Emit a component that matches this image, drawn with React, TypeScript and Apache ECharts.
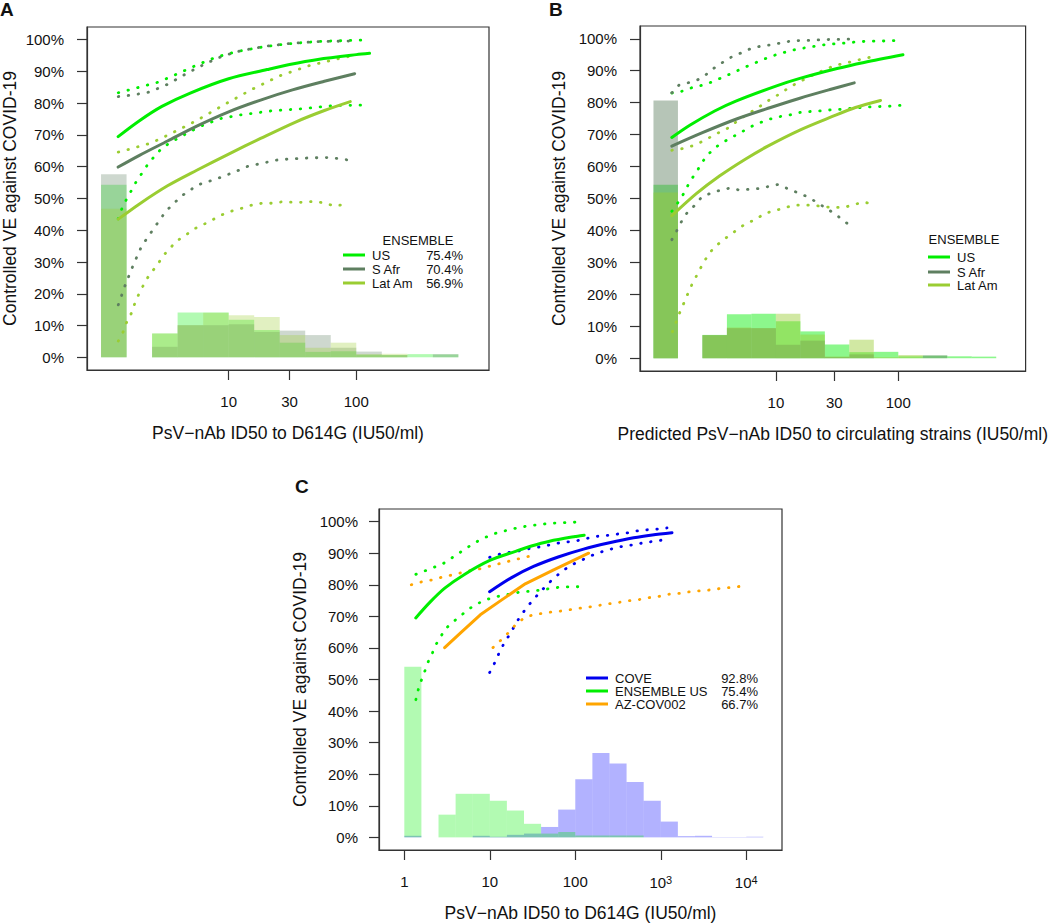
import React, { useEffect, useRef } from 'react';
import * as echarts from 'echarts';

// ---------- DATA (x = log10 of PsV-nAb ID50 in IU50/ml, y = controlled VE in %) ----------
const binEdgesAB = [0, 0.2, 0.4, 0.6, 0.8, 1.0, 1.2, 1.4, 1.6, 1.8, 2.0, 2.2, 2.4, 2.6, 2.8];
const binEdgesC = [0, 0.2, 0.4, 0.6, 0.8, 1.0, 1.2, 1.4, 1.6, 1.8, 2.0, 2.2, 2.4, 2.6, 2.8, 3.0, 3.2, 3.4, 3.6, 3.8, 4.0, 4.2];

// Panel A histograms (% of vaccinees per bin)
const usHistA = [54.3, 0, 7.5, 14.1, 14.1, 11.8, 8.6, 4.6, 1.7, 1.9, 0.8, 0.7, 1.0, 0.9];
const sAfrHistA = [57.6, 0, 3.3, 10.1, 10.1, 10.4, 8.0, 8.4, 7.0, 3.0, 1.8, 0.7, 0, 1.0];
const latAmHistA = [46.8, 0, 7.5, 10.1, 14.0, 13.2, 12.7, 7.0, 3.0, 4.6, 1.0, 1.1, 0, 0];

// Panel B histograms
const usHistB = [54.3, 0, 7.3, 13.8, 13.9, 11.6, 8.4, 4.3, 1.9, 2.0, 0.6, 0.8, 0.6, 0.5];
const sAfrHistB = [80.7, 0, 7.2, 9.4, 9.4, 4.2, 5.5, 0.4, 1.2, 0, 0, 0.9, 0, 0];
const latAmHistB = [51.9, 0, 7.2, 9.6, 9.4, 13.9, 7.4, 0.5, 5.8, 0.3, 1.0, 0, 0, 0];

// Panel C histograms
const coveHistC = [0.5, 0, 0, 0, 0.5, 0.2, 0.8, 1.2, 3.3, 8.8, 18.4, 26.7, 23.4, 17.5, 11.6, 5.0, 0.4, 0.5, 0.1, 0.1, 0.2];
const ensUsHistC = [54.0, 0, 7.2, 13.8, 13.8, 11.6, 8.5, 4.3, 1.2, 1.7, 0.6, 0.6, 0.6, 0.6, 0, 0, 0, 0, 0, 0, 0];

// Panel A curves
const usFitA = [[0.134, 69.5], [0.301, 74.5], [0.477, 79.0], [0.699, 83.2], [1.0, 87.7], [1.301, 90.6], [1.477, 92.2], [1.699, 93.8], [2.0, 95.3], [2.104, 95.7]];
const usUpperA = [[0.135, 83.3], [0.25, 84.5], [0.455, 86.7], [0.6, 89.3], [0.755, 92.1], [0.9, 94.5], [1.068, 96.3], [1.25, 97.6], [1.393, 98.4], [1.55, 99.0], [1.724, 99.5], [1.9, 99.7], [2.065, 99.9]];
const usLowerA = [[0.135, 43.6], [0.164, 46.9], [0.2, 49.8], [0.242, 52.8], [0.281, 55.7], [0.33, 58.5], [0.373, 61.2], [0.482, 66.1], [0.63, 69.6], [0.776, 72.7], [0.93, 75.1], [1.09, 76.3], [1.336, 77.6], [1.583, 78.3], [1.83, 79.3], [2.08, 79.4]];
const sAfrFitA = [[0.134, 59.9], [0.301, 63.6], [0.521, 68.1], [0.75, 72.8], [1.0, 77.3], [1.25, 81.0], [1.5, 84.2], [1.75, 86.9], [1.987, 89.3]];
const sAfrUpperA = [[0.135, 82.1], [0.25, 82.6], [0.377, 83.5], [0.53, 86.1], [0.677, 89.5], [0.82, 92.5], [0.95, 94.8], [1.1, 96.6], [1.3, 98.0], [1.5, 98.9], [1.7, 99.4], [1.98, 99.6]];
const sAfrLowerA = [[0.135, 16.5], [0.19, 22.8], [0.252, 29.0], [0.318, 35.0], [0.414, 40.6], [0.508, 46.0], [0.627, 50.7], [0.76, 54.3], [0.92, 56.4], [1.073, 58.8], [1.148, 60.1], [1.388, 62.2], [1.635, 62.8], [1.8, 62.9], [1.96, 62.0]];
const latAmFitA = [[0.135, 43.5], [0.301, 48.3], [0.521, 54.0], [0.75, 58.9], [1.0, 64.0], [1.25, 68.9], [1.52, 74.0], [1.75, 77.7], [1.953, 80.5]];
const latAmUpperA = [[0.135, 64.6], [0.213, 65.4], [0.291, 66.3], [0.37, 67.2], [0.448, 68.5], [0.55, 70.5], [0.65, 72.5], [0.742, 74.4], [0.959, 79.4], [1.174, 84.2], [1.398, 88.6], [1.636, 91.9], [1.88, 94.2], [1.953, 94.8]];
const latAmLowerA = [[0.135, 5.1], [0.174, 8.1], [0.203, 11.3], [0.242, 14.2], [0.268, 17.4], [0.302, 20.4], [0.341, 23.4], [0.385, 26.4], [0.438, 28.8], [0.479, 31.6], [0.534, 34.1], [0.596, 36.7], [0.659, 38.3], [0.727, 40.4], [0.797, 41.7], [0.87, 43.2], [0.943, 44.8], [1.021, 46.0], [1.1, 46.9], [1.18, 47.9], [1.26, 48.5], [1.34, 48.5], [1.427, 49.0], [1.5, 48.8], [1.59, 48.8], [1.67, 49.1], [1.75, 48.6], [1.83, 47.6], [1.914, 48.2]];

// Panel B curves
const usFitB = [[0.15, 69.1], [0.3, 73.0], [0.5, 77.4], [0.673, 80.5], [1.0, 85.2], [1.196, 87.6], [1.5, 90.7], [1.72, 92.6], [2.038, 95.0]];
const usUpperB = [[0.15, 83.0], [0.236, 83.6], [0.314, 84.7], [0.393, 85.4], [0.471, 86.4], [0.55, 87.7], [0.628, 89.0], [0.707, 90.4], [0.783, 91.7], [0.859, 92.9], [0.934, 94.1], [1.016, 95.2], [1.096, 96.0], [1.177, 96.8], [1.26, 97.3], [1.342, 97.8], [1.426, 98.3], [1.507, 98.5], [1.587, 98.7], [1.671, 99.1], [1.755, 99.2], [1.838, 99.3], [1.92, 99.3], [2.006, 99.5]];
const usLowerB = [[0.15, 46.0], [0.216, 49.6], [0.26, 52.4], [0.299, 55.5], [0.349, 58.1], [0.39, 60.9], [0.438, 63.5], [0.503, 65.9], [0.573, 67.7], [0.647, 69.3], [0.72, 70.8], [0.79, 72.4], [0.867, 73.7], [0.945, 74.8], [1.026, 75.6], [1.11, 76.1], [1.188, 76.9], [1.269, 77.2], [1.35, 77.4], [1.436, 77.7], [1.523, 77.9], [1.604, 78.2], [1.771, 78.7], [1.855, 78.8], [1.94, 78.9], [2.02, 79.2]];
const sAfrFitB = [[0.15, 66.4], [0.4, 70.6], [0.673, 74.8], [0.95, 78.4], [1.196, 81.4], [1.45, 84.2], [1.64, 86.2]];
const sAfrUpperB = [[0.15, 83.1], [0.208, 85.5], [0.281, 86.2], [0.359, 87.1], [0.43, 88.8], [0.498, 90.9], [0.569, 92.7], [0.642, 94.4], [0.718, 95.6], [0.793, 96.9], [0.877, 97.7], [0.961, 98.1], [1.04, 98.7], [1.122, 99.3], [1.208, 99.5], [1.29, 99.5], [1.376, 99.7], [1.456, 99.8], [1.54, 99.8], [1.62, 99.9]];
const sAfrLowerB = [[0.15, 37.1], [0.19, 39.9], [0.229, 42.8], [0.276, 45.6], [0.338, 47.9], [0.393, 50.4], [0.469, 51.7], [0.547, 52.6], [0.628, 53.3], [0.706, 52.6], [0.783, 52.9], [0.864, 53.1], [0.945, 53.8], [1.02, 54.4], [1.096, 53.1], [1.172, 51.9], [1.248, 50.7], [1.322, 49.1], [1.395, 47.3], [1.465, 45.6], [1.53, 43.8], [1.596, 41.8]];
const latAmFitB = [[0.15, 44.6], [0.35, 51.5], [0.542, 57.1], [0.75, 62.3], [0.934, 66.4], [1.2, 71.5], [1.457, 75.6], [1.65, 78.5], [1.855, 80.7]];
const latAmUpperB = [[0.15, 65.1], [0.234, 65.6], [0.312, 66.4], [0.39, 67.7], [0.469, 69.3], [0.542, 70.8], [0.616, 72.2], [0.686, 74.3], [0.751, 76.0], [0.824, 77.7], [0.895, 79.5], [0.965, 81.3], [1.039, 82.9], [1.11, 84.8], [1.18, 86.3], [1.253, 87.7], [1.326, 89.1], [1.405, 90.4], [1.483, 91.7], [1.567, 92.3], [1.648, 93.2], [1.732, 93.8], [1.816, 94.8]];
const latAmLowerB = [[0.155, 8.3], [0.184, 11.2], [0.216, 14.4], [0.25, 17.4], [0.283, 20.4], [0.318, 23.4], [0.359, 26.3], [0.398, 29.2], [0.443, 32.1], [0.495, 34.7], [0.561, 36.7], [0.624, 38.6], [0.691, 40.4], [0.759, 42.3], [0.832, 43.3], [0.906, 45.3], [0.984, 46.1], [1.065, 47.0], [1.146, 47.9], [1.227, 47.9], [1.31, 47.9], [1.392, 47.4], [1.475, 47.2], [1.557, 47.2], [1.638, 48.1], [1.718, 48.9], [1.8, 48.1]];

// Panel C curves (ENSEMBLE US reuses panel A's US curves)
const coveFit = [[0.998, 77.8], [1.25, 82.2], [1.512, 85.8], [1.8, 88.8], [2.097, 91.3], [2.4, 93.3], [2.682, 94.9], [2.9, 95.8], [3.131, 96.5]];
const coveUpper = [[0.998, 88.7], [1.115, 89.7], [1.24, 90.3], [1.36, 90.8], [1.485, 91.6], [1.61, 92.1], [1.731, 92.8], [1.852, 93.5], [1.973, 93.7], [2.097, 94.4], [2.222, 95.3], [2.339, 95.5], [2.46, 96.0], [2.585, 96.3], [2.705, 97.0], [2.83, 97.4], [2.956, 97.6], [3.073, 98.0]];
const coveLower = [[0.998, 52.2], [1.056, 55.2], [1.107, 58.3], [1.162, 61.2], [1.228, 64.1], [1.29, 67.0], [1.349, 69.7], [1.427, 72.6], [1.505, 75.2], [1.583, 77.5], [1.669, 80.0], [1.758, 82.3], [1.852, 84.4], [1.95, 86.2], [2.067, 87.7], [2.175, 89.1], [2.292, 90.3], [2.417, 91.3], [2.538, 92.1], [2.659, 92.6], [2.78, 93.2], [2.9, 93.7], [3.026, 94.2]];
const azFit = [[0.472, 60.1], [0.655, 64.7], [0.889, 70.5], [1.123, 74.9], [1.415, 80.3], [1.747, 84.7], [2.156, 90.0]];
const azUpper = [[0.082, 80.0], [0.199, 80.9], [0.316, 81.5], [0.44, 82.4], [0.558, 83.1], [0.678, 83.9], [0.803, 84.7], [0.92, 85.2], [1.037, 86.2], [1.162, 87.0], [1.283, 87.9], [1.404, 88.6], [1.524, 89.5]];
const azLower = [[1.037, 60.1], [1.123, 62.3], [1.213, 64.7], [1.29, 67.0], [1.396, 69.4], [1.505, 70.5], [1.63, 71.0], [1.754, 71.5], [1.875, 71.8], [2.0, 72.4], [2.121, 72.8], [2.246, 73.3], [2.366, 73.9], [2.488, 74.3], [2.608, 74.9], [2.729, 75.2], [2.85, 75.9], [2.975, 76.3], [3.096, 77.0], [3.22, 77.3], [3.345, 77.8], [3.462, 78.1], [3.587, 78.4], [3.716, 78.9], [3.836, 79.2], [3.96, 79.6]];

// Tick values / labels
const yTickValues = [0, 10, 20, 30, 40, 50, 60, 70, 80, 90, 100];
const xTickTitersAB = [10, 30, 100];
const xTickLabelsAB = ['10', '30', '100'];
const xTickTitersC = [1, 10, 100, 1000, 10000];
const xTickLabelsC = ['1', '10', '100', '10{sup|3}', '10{sup|4}'];

const legendLabelsAB = ['US', 'S Afr', 'Lat Am'];
const legendPctA = ['75.4%', '70.4%', '56.9%'];
const legendLabelsC = ['COVE', 'ENSEMBLE US', 'AZ-COV002'];
const legendPctC = ['92.8%', '75.4%', '66.7%'];

// ---------- STYLE ----------
const FONT = '"Liberation Sans", Arial, Helvetica, sans-serif';
const C_US = '#00ee00';
const C_SAFR = '#5e7f60';
const C_LATAM = '#9acd32';
const C_COVE = '#0000ee';
const C_AZ = '#ffa500';
const TXT = '#111';
const AX = '#333';

function histSeries(idx: number, edges: number[], heights: number[], fill: string) {
  return {
    type: 'custom',
    xAxisIndex: idx,
    yAxisIndex: idx,
    silent: true,
    z: 1,
    encode: { x: [0, 1], y: 2 },
    data: heights.map((h, i) => [edges[i], edges[i + 1], h]),
    renderItem: (_p: any, api: any) => {
      const p0 = api.coord([api.value(0), api.value(2)]);
      const p1 = api.coord([api.value(1), 0]);
      return {
        type: 'rect',
        shape: { x: p0[0], y: p0[1], width: p1[0] - p0[0], height: p1[1] - p0[1] },
        style: { fill },
      };
    },
  };
}

function lineSeries(idx: number, data: number[][], color: string, dotted: boolean, smooth: number | boolean = 0.3) {
  return {
    type: 'line',
    xAxisIndex: idx,
    yAxisIndex: idx,
    data,
    symbol: 'none',
    showSymbol: false,
    silent: true,
    z: 3,
    smooth: dotted ? false : smooth,
    lineStyle: dotted
      ? { color, width: 2.8, type: [0.5, 9.5], cap: 'round' }
      : { color, width: 3, cap: 'round' },
  };
}

function makeXAxis(gridIndex: number, min: number, max: number, titers: number[], labels: string[], name: string) {
  const vals = titers.map((t) => Math.log10(t));
  return {
    type: 'value',
    gridIndex,
    min,
    max,
    position: 'bottom',
    axisLine: { show: true, onZero: false, lineStyle: { color: AX, width: 1.2 } },
    splitLine: { show: false },
    axisTick: { show: true, inside: false, length: 10, customValues: vals, lineStyle: { color: AX, width: 1.2 } },
    axisLabel: {
      customValues: vals,
      margin: 24,
      fontSize: 15,
      color: TXT,
      fontFamily: FONT,
      formatter: (v: number) => {
        let best = 0;
        vals.forEach((tv, i) => { if (Math.abs(tv - v) < Math.abs(vals[best] - v)) best = i; });
        return labels[best];
      },
      rich: { sup: { fontSize: 11, fontFamily: FONT, color: TXT, verticalAlign: 'top', padding: [0, 0, 6, 0] } },
    },
    name,
    nameLocation: 'middle',
    nameGap: 54,
    nameMoveOverlap: false,
    nameTextStyle: { fontSize: 17.5, color: TXT, fontFamily: FONT },
  };
}

function makeYAxis(gridIndex: number, nameGap: number, labelMargin: number) {
  return {
    type: 'value',
    gridIndex,
    min: -4,
    max: 104,
    position: 'left',
    axisLine: { show: true, onZero: false, lineStyle: { color: AX, width: 1.2 } },
    splitLine: { show: false },
    axisTick: { show: true, inside: false, length: 10, customValues: yTickValues, lineStyle: { color: AX, width: 1.2 } },
    axisLabel: {
      customValues: yTickValues,
      margin: labelMargin,
      fontSize: 15,
      color: TXT,
      fontFamily: FONT,
      formatter: (v: number) => `${Math.round(v)}%`,
    },
    name: 'Controlled VE against COVID-19',
    nameLocation: 'middle',
    nameGap,
    nameMoveOverlap: false,
    nameTextStyle: { fontSize: 17.5, color: TXT, fontFamily: FONT },
  };
}

function txt(x: number, y: number, text: string, size: number, align: string, bold = false) {
  return {
    type: 'text',
    x,
    y,
    silent: true,
    style: {
      text,
      fill: TXT,
      font: `${bold ? 'bold ' : ''}${size}px ${FONT}`,
      textAlign: align,
      textVerticalAlign: 'middle',
    },
  };
}

function seg(x: number, y: number, color: string) {
  return {
    type: 'line',
    silent: true,
    shape: { x1: x, y1: y, x2: x + 22, y2: y },
    style: { stroke: color, lineWidth: 3 },
  };
}

function buildLegend(
  x: number, title: string | null, titleX: number, titleY: number, rowsY: number[],
  labels: string[], colors: string[], pct: string[] | null, pctRight: number
) {
  const els: any[] = [];
  if (title) els.push(txt(titleX, titleY, title, 13, 'center'));
  labels.forEach((lab, i) => {
    els.push(seg(x, rowsY[i], colors[i]));
    els.push(txt(x + 29, rowsY[i], lab, 13, 'left'));
    if (pct) els.push(txt(pctRight, rowsY[i], pct[i], 13, 'right'));
  });
  return els;
}

export default function App() {
  const ref = useRef<HTMLDivElement>(null);

  useEffect(() => {
    if (!ref.current) return;
    const chart = echarts.init(ref.current, undefined, { renderer: 'svg' });

    const xTitleA = 'PsV\u2212nAb ID50 to D614G (IU50/ml)';
    const xTitleB = 'Predicted PsV\u2212nAb ID50 to circulating strains (IU50/ml)';

    const option: any = {
      animation: false,
      backgroundColor: '#ffffff',
      grid: [
        { left: 86, top: 27, width: 403, height: 343, show: true, borderColor: AX, borderWidth: 1.2, backgroundColor: 'transparent' },
        { left: 640, top: 26, width: 402, height: 345, show: true, borderColor: AX, borderWidth: 1.2, backgroundColor: 'transparent' },
        { left: 379, top: 509, width: 403, height: 342, show: true, borderColor: AX, borderWidth: 1.2, backgroundColor: 'transparent' },
      ],
      xAxis: [
        makeXAxis(0, -0.11, 3.04, xTickTitersAB, xTickLabelsAB, xTitleA),
        makeXAxis(1, -0.11, 3.04, xTickTitersAB, xTickLabelsAB, xTitleB),
        makeXAxis(2, -0.296, 4.418, xTickTitersC, xTickLabelsC, xTitleA),
      ],
      yAxis: [makeYAxis(0, 68, 23), makeYAxis(1, 72, 23), makeYAxis(2, 70, 21)],
      series: [
        // Panel A histograms
        histSeries(0, binEdgesAB, usHistA, 'rgba(0,238,0,0.3)'),
        histSeries(0, binEdgesAB, sAfrHistA, 'rgba(94,127,96,0.3)'),
        histSeries(0, binEdgesAB, latAmHistA, 'rgba(154,205,50,0.3)'),
        // Panel B histograms
        histSeries(1, binEdgesAB, usHistB, 'rgba(0,238,0,0.45)'),
        histSeries(1, binEdgesAB, sAfrHistB, 'rgba(94,127,96,0.45)'),
        histSeries(1, binEdgesAB, latAmHistB, 'rgba(154,205,50,0.45)'),
        // Panel C histograms
        histSeries(2, binEdgesC, coveHistC, 'rgba(0,0,255,0.3)'),
        histSeries(2, binEdgesC, ensUsHistC, 'rgba(0,238,0,0.3)'),

        // Panel A lines
        lineSeries(0, usUpperA, C_US, true),
        lineSeries(0, usLowerA, C_US, true),
        lineSeries(0, sAfrUpperA, C_SAFR, true),
        lineSeries(0, sAfrLowerA, C_SAFR, true),
        lineSeries(0, latAmUpperA, C_LATAM, true),
        lineSeries(0, latAmLowerA, C_LATAM, true),
        lineSeries(0, usFitA, C_US, false),
        lineSeries(0, sAfrFitA, C_SAFR, false),
        lineSeries(0, latAmFitA, C_LATAM, false),

        // Panel B lines
        lineSeries(1, usUpperB, C_US, true),
        lineSeries(1, usLowerB, C_US, true),
        lineSeries(1, sAfrUpperB, C_SAFR, true),
        lineSeries(1, sAfrLowerB, C_SAFR, true),
        lineSeries(1, latAmUpperB, C_LATAM, true),
        lineSeries(1, latAmLowerB, C_LATAM, true),
        lineSeries(1, usFitB, C_US, false),
        lineSeries(1, sAfrFitB, C_SAFR, false),
        lineSeries(1, latAmFitB, C_LATAM, false),

        // Panel C lines
        lineSeries(2, usUpperA, C_US, true),
        lineSeries(2, usLowerA, C_US, true),
        lineSeries(2, coveUpper, C_COVE, true),
        lineSeries(2, coveLower, C_COVE, true),
        lineSeries(2, azUpper, C_AZ, true),
        lineSeries(2, azLower, C_AZ, true),
        lineSeries(2, usFitA, C_US, false),
        lineSeries(2, coveFit, C_COVE, false),
        lineSeries(2, azFit, C_AZ, false, false),
      ],
      graphic: [
        txt(0, 9, 'A', 19, 'left', true),
        txt(549, 9, 'B', 19, 'left', true),
        txt(295, 486, 'C', 19, 'left', true),
        ...buildLegend(343, 'ENSEMBLE', 418, 240, [255, 269, 283], legendLabelsAB, [C_US, C_SAFR, C_LATAM], legendPctA, 463),
        ...buildLegend(928, 'ENSEMBLE', 964, 239, [257, 272, 285], legendLabelsAB, [C_US, C_SAFR, C_LATAM], null, 0),
        ...buildLegend(586, null, 0, 0, [678, 691, 704], legendLabelsC, [C_COVE, C_US, C_AZ], legendPctC, 758),
      ],
    };

    chart.setOption(option);
    return () => chart.dispose();
  }, []);

  return (
    <div
      ref={ref}
      style={{ position: 'absolute', left: 0, top: 0, width: 1050, height: 923, background: '#fff' }}
    />
  );
}
